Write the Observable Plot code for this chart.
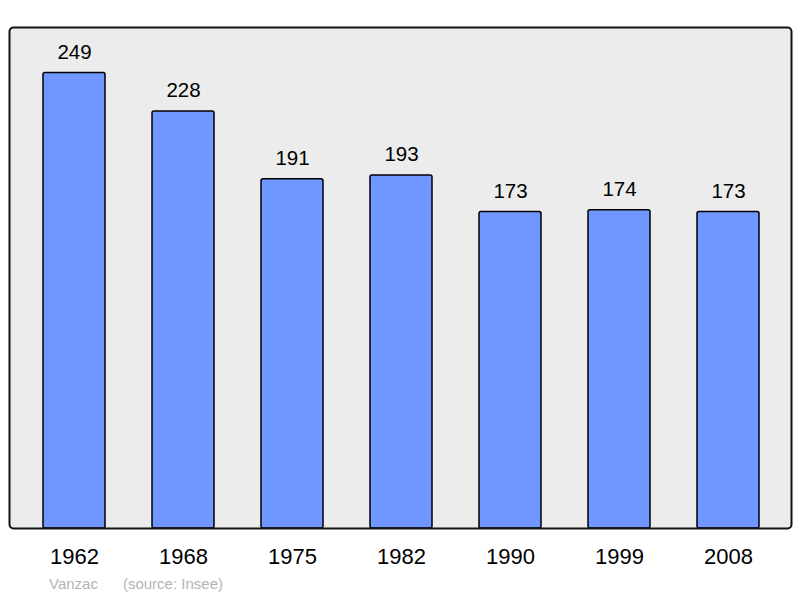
<!DOCTYPE html>
<html>
<head>
<meta charset="utf-8">
<script src="https://cdn.jsdelivr.net/npm/d3@7"></script>
<script src="https://cdn.jsdelivr.net/npm/@observablehq/plot@0.6"></script>
<style>
  html, body { margin: 0; padding: 0; background: #fff; }
  #caption { font-family: "Liberation Sans", Arial, sans-serif; font-size: 15px; color: #b4b4b4; line-height: 20px; padding-left: 49px; padding-top: 2px; white-space: pre; }
  #caption .src { margin-left: 25px; }
</style>
</head>
<body>
<div id="chart"></div>
<div id="caption"><span class="name"></span><span class="src"></span></div>
<script>
const years = ["1962", "1968", "1975", "1982", "1990", "1999", "2008"];
const population = [249, 228, 191, 193, 173, 174, 173];
const commune = "Vanzac";
const source = "(source: Insee)";

const data = years.map((y, i) => ({year: y, pop: population[i]}));
const yMax = d3.max(population) * 1.1;

const plot = Plot.plot({
  width: 800,
  height: 572,
  marginTop: 27,
  marginBottom: 44,
  marginLeft: 9,
  marginRight: 9,
  style: {fontFamily: "'Liberation Sans', Arial, sans-serif", background: "#fff", overflow: "visible"},
  x: {domain: years, range: [9.2, 793.1], paddingInner: 0.43, paddingOuter: 0.3, label: null},
  y: {domain: [0, yMax], axis: null},
  marks: [
    Plot.frame({fill: "#ececec", stroke: null, rx: 4}),
    Plot.barY(data, {x: "year", y: "pop", fill: "#7096ff", stroke: "#000", strokeWidth: 1.5, rx: 2}),
    Plot.text(data, {x: "year", y: "pop", text: d => String(d.pop), lineAnchor: "bottom", dy: -14, fontSize: 20.5, fill: "#000"}),
    Plot.axisX({tickSize: 0, tickPadding: 20, fontSize: 22, color: "#000", label: null}),
    Plot.frame({stroke: "#111", strokeWidth: 2, rx: 4, fill: "none"})
  ]
});
document.getElementById("chart").appendChild(plot);
document.querySelector("#caption .name").textContent = commune;
document.querySelector("#caption .src").textContent = source;
</script>
</body>
</html>
